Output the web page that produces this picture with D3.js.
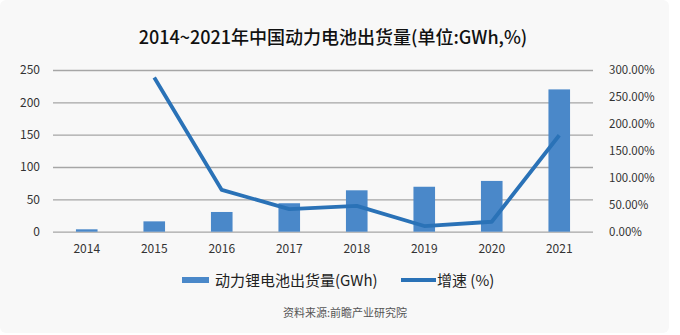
<!DOCTYPE html>
<html><head><meta charset="utf-8">
<script src="https://cdn.jsdelivr.net/npm/d3@7/dist/d3.min.js"></script>
<style>
html,body{margin:0;padding:0;background:#ffffff;}
svg{display:block;}
</style>
</head><body>
<script>
const years = ["2014","2015","2016","2017","2018","2019","2020","2021"];
const shipments = [3.7, 16, 30.5, 44, 64, 69.5, 78.5, 220];
const growthYears = ["2015","2016","2017","2018","2019","2020","2021"];
const growth = [286, 77.5, 42, 48, 10.5, 18.5, 179];
const leftTicks = [0, 50, 100, 150, 200, 250];
const rightTicks = [0, 50, 100, 150, 200, 250, 300];
const titleText = "2014~2021年中国动力电池出货量(单位:GWh,%)";
const legendLabels = ["动力锂电池出货量(GWh)", "增速 (%)"];
const sourceText = "资料来源:前瞻产业研究院";

const W = 680, H = 335;
const font = "'Noto Sans CJK SC','Noto Sans',sans-serif";
const barColor = "#4a88c9", lineColor = "#2a72b7";

const svg = d3.select("body").append("svg").attr("width", W).attr("height", H);
svg.append("rect").attr("x", 0).attr("y", 0).attr("width", 669).attr("height", 333)
  .attr("rx", 6).attr("fill", "#f8f8f8");

const x = d3.scaleBand().domain(years).range([53, 593]).paddingInner(0.68).paddingOuter(0.34);
const xc = d3.scaleBand().domain(years).range([53, 593]);
const y = d3.scaleLinear().domain([0, 250]).range([231.7, 70]);
const y2 = d3.scaleLinear().domain([0, 300]).range([231.7, 70]);

// title
svg.append("text").attr("x", 333).attr("y", 44).attr("text-anchor", "middle")
  .attr("font-family", font).attr("font-size", 18).attr("font-weight", 500)
  .attr("fill", "#111").text(titleText);

// gridlines
const gridG = svg.append("g").attr("transform", "translate(53,0)")
  .call(d3.axisRight(y).tickValues(leftTicks).tickSize(540).tickFormat(""));
gridG.select(".domain").remove();
gridG.selectAll("line").attr("stroke", "#a6a6a6").attr("stroke-width", 1.3);

// left axis labels
const leftAx = svg.append("g").attr("transform", "translate(40,0)")
  .call(d3.axisLeft(y).tickValues(leftTicks).tickSize(0).tickPadding(0));
leftAx.select(".domain").remove();
leftAx.selectAll("text").attr("font-family", font).attr("font-size", 12).attr("fill", "#333");

// right axis labels
const rightAx = svg.append("g").attr("transform", "translate(609,0)")
  .call(d3.axisRight(y2).tickValues(rightTicks).tickSize(0).tickPadding(0)
    .tickFormat(d => d3.format(".2f")(d) + "%"));
rightAx.select(".domain").remove();
rightAx.selectAll("text").attr("font-family", font).attr("font-size", 11.5).attr("fill", "#333");

// x axis labels
const xAx = svg.append("g").attr("transform", "translate(0,244)")
  .call(d3.axisBottom(xc).tickSize(0).tickPadding(0));
xAx.select(".domain").remove();
xAx.selectAll("text").attr("font-family", font).attr("font-size", 12).attr("fill", "#333");

// bars
svg.append("g").selectAll("rect").data(years).join("rect")
  .attr("x", d => x(d)).attr("width", x.bandwidth())
  .attr("y", (d, i) => y(shipments[i])).attr("height", (d, i) => y(0) - y(shipments[i]))
  .attr("fill", barColor);

// line
const line = d3.line().x((d, i) => xc(growthYears[i]) + xc.bandwidth() / 2).y(d => y2(d));
svg.append("path").datum(growth).attr("d", line).attr("fill", "none")
  .attr("stroke", lineColor).attr("stroke-width", 3.8).attr("stroke-linejoin", "round");

// legend
svg.append("rect").attr("x", 182).attr("y", 277).attr("width", 27).attr("height", 6).attr("fill", barColor);
svg.append("text").attr("x", 215).attr("y", 285.5).attr("font-family", font).attr("font-size", 15)
  .attr("fill", "#222").text(legendLabels[0]);
svg.append("line").attr("x1", 401).attr("x2", 436).attr("y1", 280).attr("y2", 280)
  .attr("stroke", lineColor).attr("stroke-width", 4);
svg.append("text").attr("x", 437).attr("y", 285.5).attr("font-family", font).attr("font-size", 15)
  .attr("fill", "#222").text(legendLabels[1]);

// source
svg.append("text").attr("x", 345).attr("y", 316.5).attr("text-anchor", "middle")
  .attr("font-family", font).attr("font-size", 11).attr("fill", "#555").text(sourceText);
</script>
</body></html>
